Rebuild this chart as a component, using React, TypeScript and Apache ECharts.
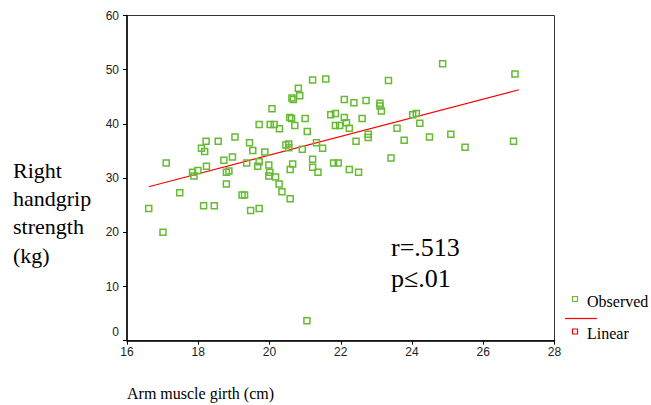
import React, { useEffect, useRef } from "react";
import * as echarts from "echarts";

const girth: number[] = [
  16.61, 17.01, 17.1, 17.48, 17.84, 17.88, 17.99, 18.09, 18.15, 18.18,
  18.22, 18.23, 18.45, 18.56, 18.72, 18.79, 18.86, 18.79, 18.96, 19.03,
  19.23, 19.3, 19.36, 19.44, 19.47, 19.53, 19.67, 19.71, 19.71, 19.71,
  19.87, 19.98, 20.01, 19.98, 20.02, 20.07, 20.13, 20.17, 20.27, 20.28,
  20.35, 20.46, 20.54, 20.54, 20.57, 20.58, 20.58, 20.62, 20.63, 20.65,
  20.67, 20.71, 20.81, 20.85, 20.92, 21.0, 21.05, 21.06, 21.21, 21.21,
  21.21, 21.32, 21.36, 21.49, 21.58, 21.72, 21.8, 21.85, 21.85, 21.93,
  21.97, 22.1, 22.1, 22.16, 22.24, 22.24, 22.37, 22.43, 22.5, 22.6,
  22.71, 22.77, 22.77, 23.1, 23.1, 23.14, 23.34, 23.41, 23.58, 23.78,
  24.02, 24.12, 24.22, 24.49, 24.86, 25.09, 25.49, 26.89, 26.85,
];

const handgrip: number[] = [
  24.4, 20.0, 32.8, 27.3, 31.1, 30.4, 31.4, 35.5, 24.9, 34.9,
  36.8, 32.2, 24.9, 36.8, 33.3, 31.1, 31.3, 28.9, 33.9, 37.6,
  26.9, 26.9, 32.8, 36.5, 24.0, 35.1, 32.2, 33.0, 39.9, 24.4,
  34.8, 32.4, 31.1, 30.4, 39.9, 42.8, 39.9, 30.2, 28.9, 39.1,
  27.5, 36.1, 36.3, 35.6, 41.2, 26.2, 31.6, 41.0, 44.8, 32.6,
  44.5, 39.7, 46.6, 45.2, 35.3, 41.0, 3.7, 38.6, 48.1, 33.5,
  32.0, 36.5, 31.1, 35.5, 48.3, 41.7, 32.8, 41.9, 39.7, 32.8,
  39.7, 44.5, 41.2, 40.2, 39.2, 31.6, 43.9, 36.8, 31.1, 41.0,
  44.3, 38.1, 37.5, 43.8, 43.3, 42.4, 48.0, 33.7, 39.2, 37.0,
  41.7, 41.9, 40.1, 37.6, 51.1, 38.1, 35.7, 49.2, 36.8,
];

const linearX: number[] = [16.61, 27.0];
const linearY: number[] = [28.4, 46.3];

const xTicks = { min: 16, max: 28, interval: 2 };
const yTicks = { min: 0, max: 60, interval: 10 };

const yTitle = ["Right", "handgrip", "strength", "(kg)"];
const xTitle = "Arm muscle girth (cm)";
const statLines = ["r=.513", "p\u2264.01"];
const legendNames = ["Observed", "Linear"];

const GREEN = "#66bb33";
const RED = "#ff0000";
const SERIF = "'Liberation Serif', 'Times New Roman', serif";
const SANS = "'Liberation Sans', Arial, sans-serif";

export default function App() {
  const ref = useRef<HTMLDivElement>(null);

  useEffect(() => {
    document.body.style.margin = "0";
    if (!ref.current) return;
    const chart = echarts.init(ref.current, undefined, { renderer: "svg" });

    const observed = girth.map((x, i) => [x, handgrip[i]]);
    const linear = linearX.map((x, i) => [x, linearY[i]]);

    chart.setOption({
      animation: false,
      backgroundColor: "#ffffff",
      grid: {
        left: 127,
        right: 96.5,
        top: 15.5,
        bottom: 64.3,
        show: true,
        borderColor: "#333",
        borderWidth: 1,
        backgroundColor: "transparent",
      },
      xAxis: {
        type: "value",
        min: xTicks.min,
        max: xTicks.max,
        interval: xTicks.interval,
        splitLine: { show: false },
        axisLine: { show: true, lineStyle: { color: "#000", width: 1.5 } },
        axisTick: { show: true, length: 4, lineStyle: { color: "#000" } },
        axisLabel: {
          margin: 5,
          color: "#222",
          fontSize: 12,
          fontFamily: SANS,
        },
      },
      yAxis: {
        type: "value",
        min: yTicks.min,
        max: yTicks.max,
        interval: yTicks.interval,
        splitLine: { show: false },
        axisLine: { show: true, lineStyle: { color: "#000", width: 1.5 } },
        axisTick: { show: true, length: 4, lineStyle: { color: "#000" } },
        axisLabel: {
          margin: 8,
          color: "#222",
          fontSize: 12,
          fontFamily: SANS,
          formatter: (v: number) => (v === 0 ? "{z|0}" : String(v)),
          rich: {
            z: {
              fontSize: 12,
              fontFamily: SANS,
              color: "#222",
              padding: [0, 0, 18, 0],
            },
          },
        },
      },
      series: [
        {
          name: legendNames[0],
          type: "scatter",
          data: observed,
          symbol: "rect",
          symbolSize: 6,
          itemStyle: {
            color: "rgba(255,255,255,0)",
            borderColor: GREEN,
            borderWidth: 1.5,
            opacity: 1,
          },
          z: 3,
        },
        {
          name: legendNames[1],
          type: "line",
          data: linear,
          showSymbol: false,
          lineStyle: { color: RED, width: 1.2 },
          z: 2,
        },
      ],
      graphic: [
        {
          type: "text",
          left: 13,
          top: 156,
          style: {
            text: yTitle.join("\n"),
            font: `22px ${SERIF}`,
            lineHeight: 28.3,
            fill: "#000",
          },
        },
        {
          type: "text",
          left: 127,
          top: 385,
          style: {
            text: xTitle,
            font: `16px ${SERIF}`,
            fill: "#000",
          },
        },
        {
          type: "text",
          left: 391,
          top: 232,
          style: {
            text: statLines.join("\n"),
            font: `26px ${SERIF}`,
            lineHeight: 31,
            fill: "#000",
          },
        },
        {
          type: "rect",
          shape: { x: 572.5, y: 296.5, width: 5, height: 5 },
          style: { fill: "#fff", stroke: GREEN, lineWidth: 1.2 },
        },
        {
          type: "text",
          left: 587,
          top: 293,
          style: {
            text: legendNames[0],
            font: `16px ${SERIF}`,
            fill: "#000",
          },
        },
        {
          type: "line",
          shape: { x1: 565, y1: 318.5, x2: 597, y2: 318.5 },
          style: { stroke: RED, lineWidth: 1.2 },
        },
        {
          type: "rect",
          shape: { x: 572.5, y: 329, width: 5, height: 5 },
          style: { fill: "#fff", stroke: RED, lineWidth: 1.2 },
        },
        {
          type: "text",
          left: 587,
          top: 325,
          style: {
            text: legendNames[1],
            font: `16px ${SERIF}`,
            fill: "#000",
          },
        },
      ],
    });

    return () => chart.dispose();
  }, []);

  return <div ref={ref} style={{ width: 651, height: 405 }} />;
}
